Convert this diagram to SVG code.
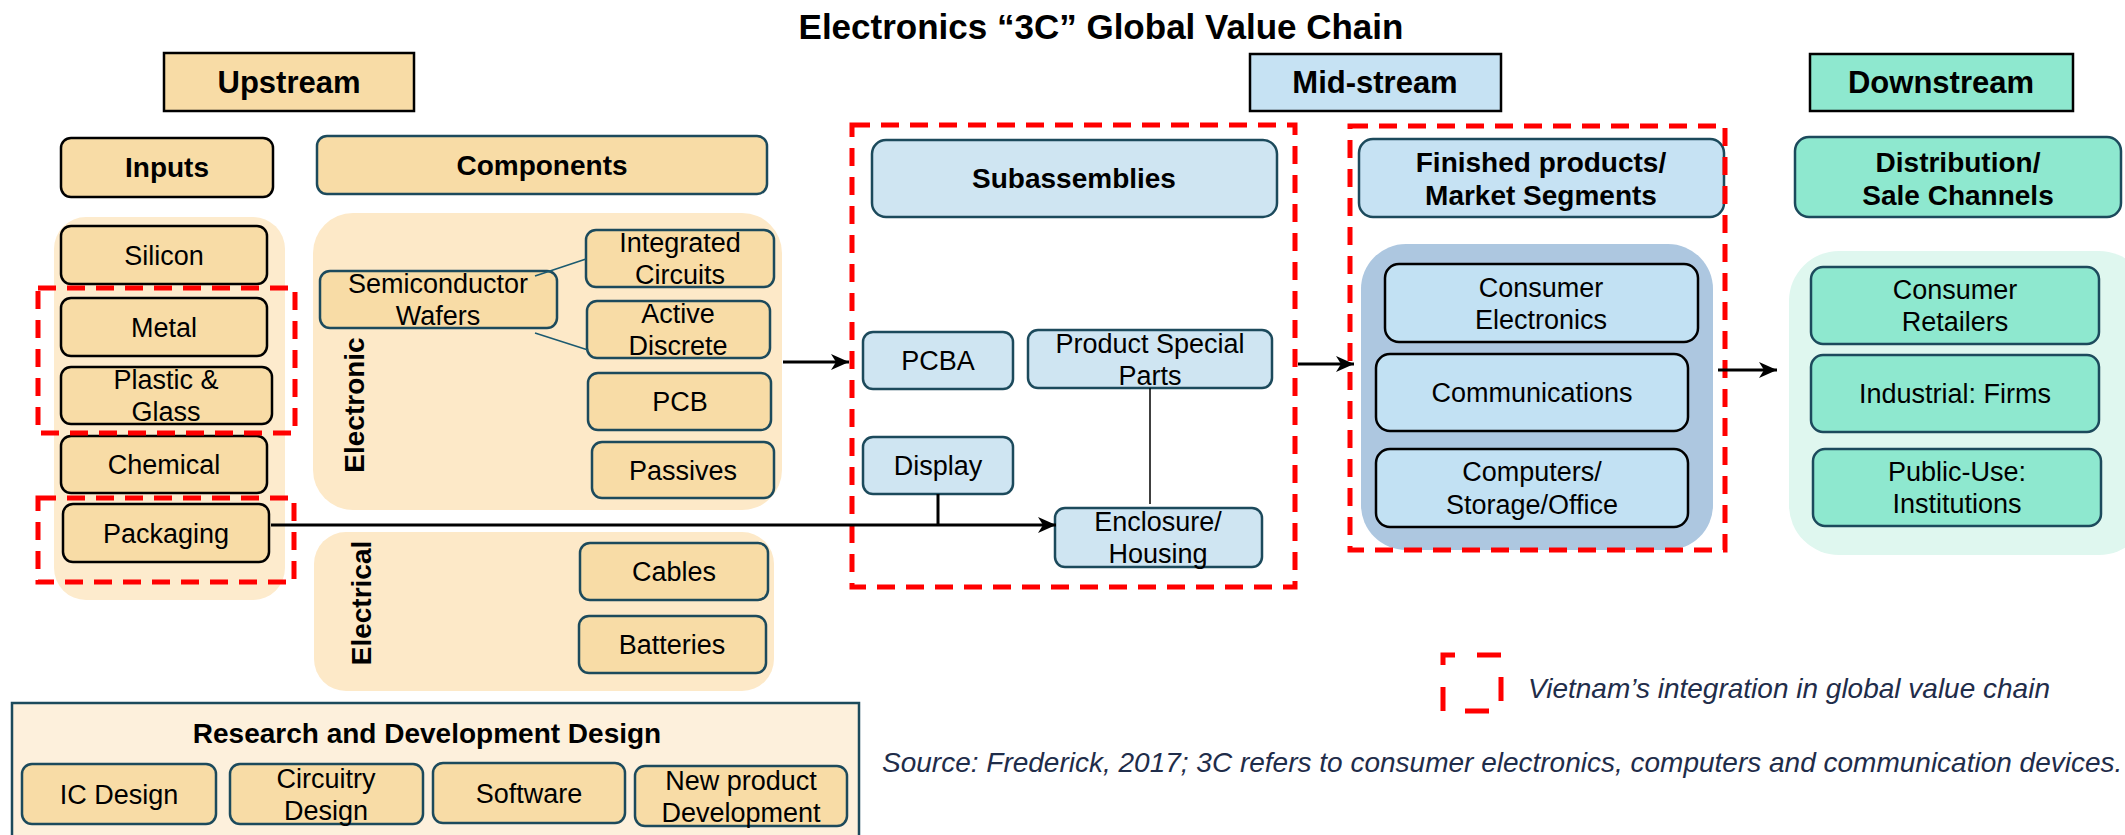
<svg xmlns="http://www.w3.org/2000/svg" width="2125" height="835" viewBox="0 0 2125 835">
<style>
text{font-family:"Liberation Sans",Arial,sans-serif;fill:#000;text-anchor:middle}
.t{font-size:27px}
.b{font-size:28px;font-weight:bold}
.h{font-size:31px;font-weight:bold}
.ti{font-size:35px;font-weight:bold}
.note{font-size:28px;font-style:italic;fill:#1f2d4a;text-anchor:start}
.hdr{stroke:#000;stroke-width:2.5}
.tan{fill:#f8dca6}
.blu{fill:#cfe5f2}
.blu2{fill:#c2e1f3}
.grn{fill:#8ee8cf}
.kb{stroke:#000;stroke-width:2.5}
.tb{stroke:#1c4a5c;stroke-width:2.5}
.vn{fill:none;stroke:#ff0000;stroke-width:5;stroke-dasharray:18 11}
.conn{stroke:#000;stroke-width:3;fill:none}
.thin{stroke:#000;stroke-width:1.5;fill:none}
.teal{stroke:#1c5a70;stroke-width:1.5;fill:none}
</style>
<defs>
<marker id="arr" markerWidth="18" markerHeight="16" refX="18" refY="8" orient="auto" markerUnits="userSpaceOnUse">
<path d="M0,0 L18,8 L0,16 L5,8 Z" fill="#000"/>
</marker>
</defs>
<rect width="2125" height="835" fill="#fff"/>

<text class="ti" x="1101" y="39">Electronics “3C” Global Value Chain</text>

<!-- stage headers -->
<g id="upstream"><rect class="hdr tan" x="164" y="53" width="250" height="58"/><text class="h" x="289" y="93">Upstream</text></g>
<g id="midstream"><rect class="hdr" fill="#c6e2f3" x="1250" y="54" width="251" height="57"/><text class="h" x="1375" y="93">Mid-stream</text></g>
<g id="downstream"><rect class="hdr grn" x="1810" y="54" width="263" height="57"/><text class="h" x="1941" y="93">Downstream</text></g>

<!-- backgrounds -->
<g id="backgrounds">
<rect x="54" y="217" width="231" height="383" rx="32" fill="#fdebcd"/>
<rect x="313" y="213" width="469" height="297" rx="40" fill="#fde9c8"/>
<rect x="314" y="532" width="460" height="159" rx="32" fill="#fde9c8"/>
<rect x="1361" y="244" width="352" height="306" rx="45" fill="#adc7e0"/>
<rect x="1789" y="251" width="360" height="304" rx="50" fill="#dff7ef"/>
<rect x="12" y="703" width="847" height="150" fill="#fdf0dc" stroke="#1c4a5c" stroke-width="2.5"/>
</g>

<!-- Inputs column -->
<g id="inputs"><rect class="kb tan" x="61" y="138" width="212" height="59" rx="10"/><text class="b" x="167" y="177">Inputs</text></g>
<g id="silicon"><rect class="kb tan" x="61" y="226" width="206" height="58" rx="10"/><text class="t" x="164" y="264.5">Silicon</text></g>
<g id="metal"><rect class="kb tan" x="61" y="298" width="206" height="58" rx="10"/><text class="t" x="164" y="336.5">Metal</text></g>
<g id="plastic"><rect class="kb tan" x="61" y="367" width="211" height="57" rx="10"/><text class="t" x="166" y="389">Plastic &amp;</text><text class="t" x="166" y="421">Glass</text></g>
<g id="chemical"><rect class="kb tan" x="61" y="436" width="206" height="57" rx="10"/><text class="t" x="164" y="474">Chemical</text></g>
<g id="packaging"><rect class="kb tan" x="63" y="504" width="206" height="58" rx="10"/><text class="t" x="166" y="542.5">Packaging</text></g>

<!-- Components -->
<g id="components"><rect class="tb tan" x="317" y="136" width="450" height="58" rx="10"/><text class="b" x="542" y="175">Components</text></g>
<g id="electronic-label"><text class="b" transform="translate(364,405) rotate(-90)" x="0" y="0">Electronic</text></g>
<g id="electrical-label"><text class="b" transform="translate(371,603) rotate(-90)" x="0" y="0">Electrical</text></g>
<g id="wafers"><rect class="tb tan" x="320" y="271" width="237" height="57" rx="10"/><text class="t" x="438" y="293">Semiconductor</text><text class="t" x="438" y="325">Wafers</text></g>
<g id="ic"><rect class="tb tan" x="586" y="230" width="188" height="57" rx="10"/><text class="t" x="680" y="252">Integrated</text><text class="t" x="680" y="284">Circuits</text></g>
<g id="active"><rect class="tb tan" x="587" y="301" width="183" height="57" rx="10"/><text class="t" x="678" y="323">Active</text><text class="t" x="678" y="355">Discrete</text></g>
<g id="pcb"><rect class="tb tan" x="588" y="373" width="183" height="57" rx="10"/><text class="t" x="680" y="411">PCB</text></g>
<g id="passives"><rect class="tb tan" x="592" y="442" width="182" height="56" rx="10"/><text class="t" x="683" y="480">Passives</text></g>
<g id="cables"><rect class="tb tan" x="580" y="543" width="188" height="57" rx="10"/><text class="t" x="674" y="581">Cables</text></g>
<g id="batteries"><rect class="tb tan" x="579" y="616" width="187" height="57" rx="10"/><text class="t" x="672" y="654">Batteries</text></g>

<!-- Subassemblies -->
<g id="subassemblies"><rect class="tb blu" x="872" y="140" width="405" height="77" rx="14"/><text class="b" x="1074" y="188">Subassemblies</text></g>
<g id="pcba"><rect class="tb blu" x="863" y="332" width="150" height="57" rx="10"/><text class="t" x="938" y="370">PCBA</text></g>
<g id="special"><rect class="tb blu" x="1028" y="330" width="244" height="58" rx="10"/><text class="t" x="1150" y="353">Product Special</text><text class="t" x="1150" y="385">Parts</text></g>
<g id="display"><rect class="tb blu" x="863" y="437" width="150" height="57" rx="10"/><text class="t" x="938" y="475">Display</text></g>
<g id="enclosure"><rect class="tb blu" x="1055" y="508" width="207" height="59" rx="10"/><text class="t" x="1158" y="531">Enclosure/</text><text class="t" x="1158" y="563">Housing</text></g>

<!-- Finished products -->
<g id="finished"><rect class="tb" fill="#c6e2f3" x="1359" y="139" width="365" height="78" rx="14"/><text class="b" x="1541" y="172">Finished products/</text><text class="b" x="1541" y="205">Market Segments</text></g>
<g id="consumer-electronics"><rect class="kb blu2" x="1385" y="264" width="313" height="78" rx="14"/><text class="t" x="1541" y="297">Consumer</text><text class="t" x="1541" y="329">Electronics</text></g>
<g id="communications"><rect class="kb blu2" x="1376" y="354" width="312" height="77" rx="14"/><text class="t" x="1532" y="402">Communications</text></g>
<g id="computers"><rect class="kb blu2" x="1376" y="449" width="312" height="78" rx="14"/><text class="t" x="1532" y="481">Computers/</text><text class="t" x="1532" y="514">Storage/Office</text></g>

<!-- Distribution -->
<g id="distribution"><rect class="tb grn" x="1795" y="137" width="326" height="80" rx="14"/><text class="b" x="1958" y="172">Distribution/</text><text class="b" x="1958" y="205">Sale Channels</text></g>
<g id="retailers"><rect class="tb grn" x="1811" y="267" width="288" height="77" rx="12"/><text class="t" x="1955" y="299">Consumer</text><text class="t" x="1955" y="331">Retailers</text></g>
<g id="firms"><rect class="tb grn" x="1811" y="355" width="288" height="77" rx="12"/><text class="t" x="1955" y="403">Industrial: Firms</text></g>
<g id="institutions"><rect class="tb grn" x="1813" y="449" width="288" height="77" rx="12"/><text class="t" x="1957" y="481">Public-Use:</text><text class="t" x="1957" y="513">Institutions</text></g>

<!-- R&D -->
<g id="rnd"><text class="b" x="427" y="743">Research and Development Design</text></g>
<g id="icdesign"><rect class="tb tan" x="22" y="764" width="194" height="60" rx="10"/><text class="t" x="119" y="803.5">IC Design</text></g>
<g id="circuitry"><rect class="tb tan" x="230" y="764" width="193" height="60" rx="10"/><text class="t" x="326" y="788">Circuitry</text><text class="t" x="326" y="820">Design</text></g>
<g id="software"><rect class="tb tan" x="433" y="763" width="192" height="60" rx="10"/><text class="t" x="529" y="802.5">Software</text></g>
<g id="newproduct"><rect class="tb tan" x="635" y="766" width="212" height="60" rx="10"/><text class="t" x="741" y="790">New product</text><text class="t" x="741" y="822">Development</text></g>

<!-- Vietnam dashed boxes -->
<g id="vietnam">
<rect class="vn" x="38" y="288" width="257" height="145"/>
<rect class="vn" x="38" y="498" width="256" height="84"/>
<rect class="vn" x="852" y="125" width="443" height="462"/>
<rect class="vn" x="1350" y="126" width="375" height="424"/>
</g>

<!-- connectors -->
<g id="connectors">
<line class="teal" x1="535" y1="276" x2="586" y2="259"/>
<line class="teal" x1="535" y1="333" x2="588" y2="350"/>
<line class="conn" x1="783" y1="362" x2="849" y2="362" marker-end="url(#arr)"/>
<line class="conn" x1="1298" y1="364" x2="1354" y2="364" marker-end="url(#arr)"/>
<line class="conn" x1="1718" y1="370" x2="1777" y2="370" marker-end="url(#arr)"/>
<line class="conn" x1="271" y1="525" x2="1056" y2="525" marker-end="url(#arr)"/>
<line class="conn" x1="938" y1="494" x2="938" y2="525"/>
<line class="thin" x1="1150" y1="388" x2="1150" y2="504"/>
</g>

<!-- legend -->
<g id="legend">
<rect x="1443" y="655" width="58" height="56" fill="none" stroke="#ff0000" stroke-width="5" stroke-dasharray="12 22 12 0"/>
<text class="note" x="1528" y="698">Vietnam’s integration in global value chain</text>
<text class="note" x="882" y="772">Source: Frederick, 2017; 3C refers to consumer electronics, computers and communication devices.</text>
</g>
</svg>
